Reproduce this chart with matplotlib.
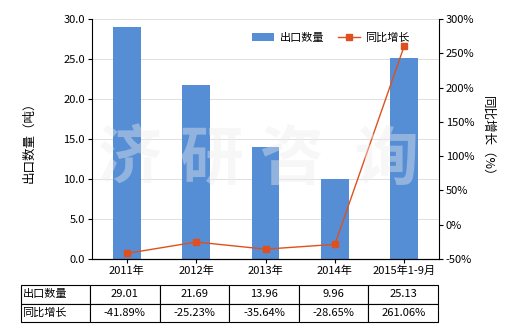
import matplotlib
matplotlib.use("Agg")
import matplotlib.pyplot as plt
import numpy as np

plt.rcParams['font.family'] = ['Noto Sans CJK SC', 'DejaVu Sans']

years = ["2011年", "2012年", "2013年", "2014年", "2015年1-9月"]
export_qty = [29.01, 21.69, 13.96, 9.96, 25.13]
growth = [-41.89, -25.23, -35.64, -28.65, 261.06]
qty_labels = ["29.01", "21.69", "13.96", "9.96", "25.13"]
growth_labels = ["-41.89%", "-25.23%", "-35.64%", "-28.65%", "261.06%"]

bar_color = "#558ED5"
line_color = "#E0501E"


def main():
    fig = plt.figure(figsize=(5.2, 3.3), dpi=100)
    ax = fig.add_axes([92 / 520, 1 - 259 / 330, 347 / 520, 240 / 330])
    ax2 = ax.twinx()

    x = np.arange(len(years))
    ax.bar(x, export_qty, width=0.4, color=bar_color, label="出口数量", zorder=2)
    ax.set_xlim(-0.5, len(years) - 0.5)
    ax.set_ylim(0, 30)
    ax.set_yticks(np.arange(0, 30.1, 5))
    ax.set_yticklabels([f"{v:.1f}" for v in np.arange(0, 30.1, 5)])
    ax.set_xticks(x)
    ax.set_xticklabels(years)
    ax.grid(axis="y", color="#d9d9d9", linewidth=0.6, zorder=0)
    ax.set_axisbelow(True)

    ax2.plot(x, growth, color=line_color, marker="s", markersize=4,
             linewidth=1, label="同比增长")
    ax2.set_ylim(-50, 300)
    ax2.set_yticks(np.arange(-50, 301, 50))
    ax2.set_yticklabels([f"{v}%" for v in range(-50, 301, 50)])

    for a in (ax, ax2):
        a.spines["top"].set_visible(False)
        a.tick_params(labelsize=8, length=3, width=0.8, pad=2)
    ax.spines["right"].set_visible(False)
    ax2.spines["left"].set_visible(False)

    ax.set_ylabel("出口数量（吨）", fontsize=9, labelpad=20)
    ax2.set_ylabel("同比增长（%）", fontsize=9, rotation=270, labelpad=14)

    h1, l1 = ax.get_legend_handles_labels()
    h2, l2 = ax2.get_legend_handles_labels()
    ax2.legend(h1 + h2, l1 + l2, loc="upper right", bbox_to_anchor=(0.945, 0.985),
               ncol=2, frameon=False, fontsize=8, handlelength=2.0,
               columnspacing=1.2, handletextpad=0.5)

    # watermark
    for cx, ch in zip([130, 212, 292, 387], "济研咨询"):
        fig.text(cx / 520, 1 - 160 / 330, ch, fontsize=46, fontweight="bold",
                 color="#ececec", alpha=0.4, ha="center", va="center", zorder=10)

    # data table
    cell_text = [["出口数量"] + qty_labels, ["同比增长"] + growth_labels]
    tbl = ax.table(cellText=cell_text,
                   colWidths=[69] + [69.6] * 5,
                   bbox=[(21 - 92) / 347, (259 - 322) / 240, 417 / 347, 37 / 240],
                   cellLoc="center")
    tbl.auto_set_font_size(False)
    for (r, c), cell in tbl.get_celld().items():
        cell.set_linewidth(0.8)
        cell.get_text().set_fontsize(8)
        if c == 0:
            cell.get_text().set_ha("left")
            cell._loc = "left"
            cell.PAD = 0.02

    fig.savefig("out.png", dpi=100)


if __name__ == "__main__":
    main()
